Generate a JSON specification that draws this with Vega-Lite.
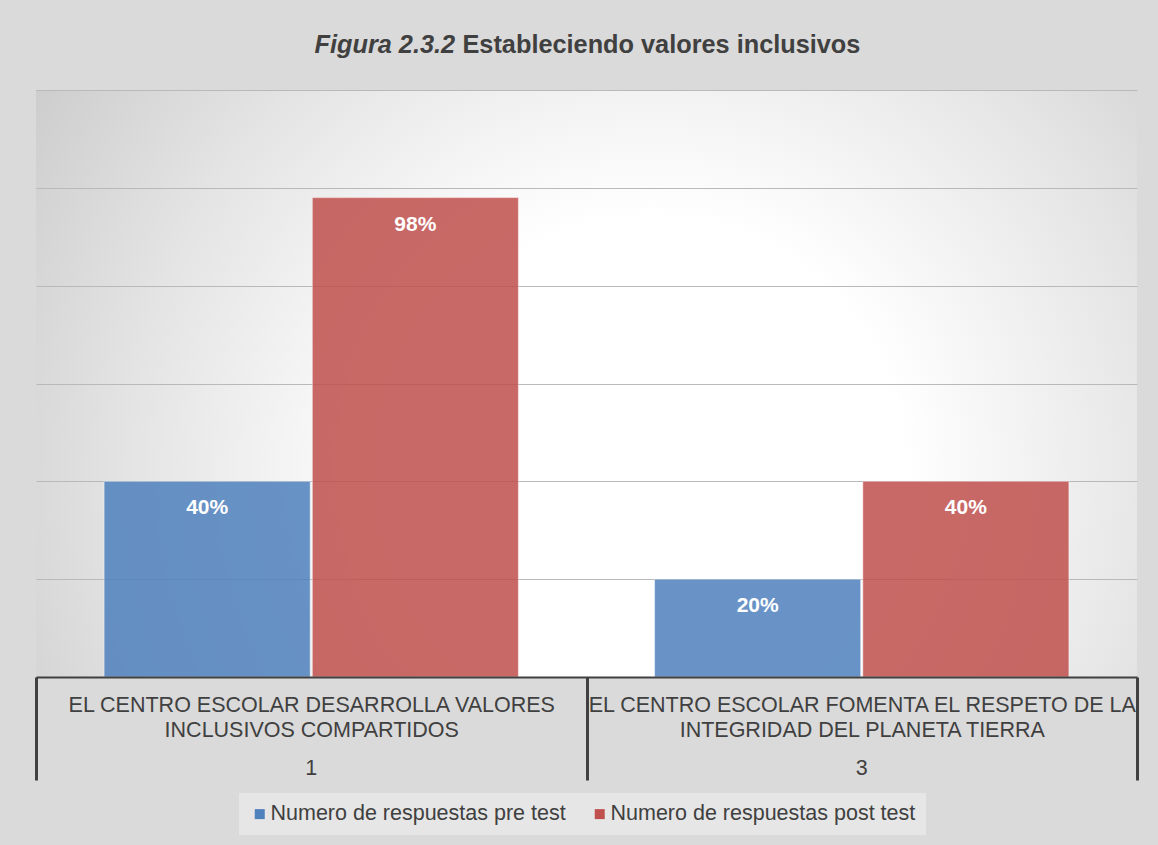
{
  "$schema": "https://vega.github.io/schema/vega-lite/v6.json",
  "width": 1101,
  "height": 587,
  "autosize": "none",
  "padding": {"left": 36, "top": 90, "right": 21, "bottom": 168},
  "background": "#dadada",
  "config": {
    "font": "Liberation Sans",
    "view": {
      "stroke": null,
      "fill": {
        "gradient": "radial",
        "x1": 0.558, "y1": 0.579, "r1": 0,
        "x2": 0.558, "y2": 0.579, "r2": 0.763,
        "stops": [
          {"offset": 0, "color": "#ffffff"},
          {"offset": 0.3, "color": "#ffffff"},
          {"offset": 0.62, "color": "#e4e4e4"},
          {"offset": 1, "color": "#c0c0c0"}
        ]
      }
    }
  },
  "data": {
    "values": [
      {"pregunta": "EL CENTRO ESCOLAR DESARROLLA VALORES|INCLUSIVOS COMPARTIDOS|1", "serie": "Numero de respuestas pre test", "valor": 0.40},
      {"pregunta": "EL CENTRO ESCOLAR DESARROLLA VALORES|INCLUSIVOS COMPARTIDOS|1", "serie": "Numero de respuestas post test", "valor": 0.98},
      {"pregunta": "EL CENTRO ESCOLAR FOMENTA EL RESPETO DE LA|INTEGRIDAD DEL PLANETA TIERRA|3", "serie": "Numero de respuestas pre test", "valor": 0.20},
      {"pregunta": "EL CENTRO ESCOLAR FOMENTA EL RESPETO DE LA|INTEGRIDAD DEL PLANETA TIERRA|3", "serie": "Numero de respuestas post test", "valor": 0.40}
    ]
  },
  "encoding": {
    "xOffset": {
      "field": "serie",
      "type": "nominal",
      "sort": ["Numero de respuestas pre test", "Numero de respuestas post test"],
      "scale": {"paddingInner": 0.01, "paddingOuter": 0.327}
    },
    "y": {
      "field": "valor",
      "type": "quantitative",
      "scale": {"domain": [0, 1.2], "nice": false},
      "axis": {
        "zindex": 0,
        "grid": true,
        "gridColor": "#b9b9b9",
        "gridWidth": 1,
        "domain": false,
        "ticks": false,
        "labels": false,
        "values": [0, 0.2, 0.4, 0.6, 0.8, 1.0, 1.2],
        "title": "Figura 2.3.2",
        "titleAngle": 0,
        "titleX": 278,
        "titleY": -38,
        "titleAlign": "left",
        "titleBaseline": "alphabetic",
        "titleFontSize": 25.3,
        "titleFontWeight": "bold",
        "titleFontStyle": "italic",
        "titleColor": "#404040"
      }
    }
  },
  "resolve": {"scale": {"x": "shared"}, "axis": {"x": "independent"}},
  "layer": [
    {
      "mark": {"type": "bar", "opacity": 0.85, "stroke": "#ffffff", "strokeOpacity": 0.5, "strokeWidth": 1},
      "encoding": {
        "x": {
          "field": "pregunta",
          "type": "nominal",
          "sort": null,
          "scale": {"paddingInner": 0, "paddingOuter": 0},
          "axis": {
            "orient": "bottom",
            "zindex": 1,
            "title": "Estableciendo valores inclusivos",
            "titleX": 426,
            "titleY": -625,
            "titleAlign": "left",
            "titleBaseline": "alphabetic",
            "titleFontSize": 25.3,
            "titleFontWeight": "bold",
            "titleColor": "#404040",
            "domain": true,
            "domainColor": "#404040",
            "domainWidth": 2,
            "ticks": true,
            "tickBand": "extent",
            "tickColor": "#404040",
            "tickWidth": 3,
            "tickSize": 103,
            "labelAngle": 0,
            "labelPadding": -86,
            "labelBaseline": "top",
            "labelLineHeight": 25.5,
            "labelFontSize": 21.5,
            "labelColor": "#404040",
            "labelLimit": 600,
            "labelOverlap": false,
            "labelExpr": "isString(datum.value) ? [split(datum.value, '|')[0], split(datum.value, '|')[1]] : ''"
          }
        },
        "color": {
          "field": "serie",
          "type": "nominal",
          "scale": {
            "domain": ["Numero de respuestas pre test", "Numero de respuestas post test"],
            "range": ["#4f81bd", "#c0504d"]
          },
          "legend": {
            "title": null,
            "orient": "none",
            "legendX": 203,
            "legendY": 703,
            "direction": "horizontal",
            "symbolType": "square",
            "symbolSize": 100,
            "symbolStrokeWidth": 0,
            "symbolOpacity": 1,
            "labelFontSize": 21.5,
            "labelColor": "#404040",
            "labelOffset": 0,
            "labelLimit": 400,
            "columnPadding": 23,
            "padding": 10,
            "fillColor": "#e6e6e6"
          }
        }
      }
    },
    {
      "mark": {"type": "text", "color": "#ffffff", "fontWeight": "bold", "fontSize": 21, "baseline": "middle", "dy": 27},
      "encoding": {
        "x": {
          "field": "pregunta",
          "type": "nominal",
          "sort": null,
          "scale": {"paddingInner": 0, "paddingOuter": 0},
          "axis": {
            "orient": "bottom",
            "zindex": 1,
            "title": null,
            "domain": false,
            "ticks": false,
            "grid": false,
            "labelAngle": 0,
            "labelPadding": 80,
            "labelBaseline": "top",
            "labelFontSize": 21.5,
            "labelColor": "#404040",
            "labelOverlap": false,
            "labelExpr": "isString(datum.value) ? split(datum.value, '|')[2] : ''"
          }
        },
        "text": {"field": "valor", "type": "quantitative", "format": ".0%"}
      }
    }
  ]
}
